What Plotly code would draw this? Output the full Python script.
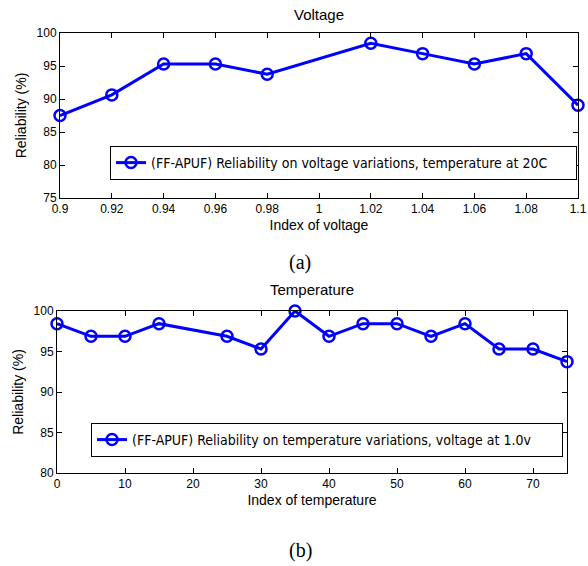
import plotly.graph_objects as go

# Data
volt_x = [0.90, 0.92, 0.94, 0.96, 0.98, 1.02, 1.04, 1.06, 1.08, 1.10]
volt_y = [87.5, 90.625, 95.3125, 95.3125, 93.75, 98.4375, 96.875, 95.3125, 96.875, 89.0625]
volt_ticks = [0.9, 0.92, 0.94, 0.96, 0.98, 1.0, 1.02, 1.04, 1.06, 1.08, 1.1]
volt_ticklabels = ["0.9", "0.92", "0.94", "0.96", "0.98", "1", "1.02", "1.04", "1.06", "1.08", "1.1"]

temp_x = [0, 5, 10, 15, 25, 30, 35, 40, 45, 50, 55, 60, 65, 70, 75]
temp_y = [98.4375, 96.875, 96.875, 98.4375, 96.875, 95.3125, 100, 96.875, 98.4375, 98.4375,
          96.875, 98.4375, 95.3125, 95.3125, 93.75]
temp_ticks = [0, 10, 20, 30, 40, 50, 60, 70]

W, H = 588, 566
BLUE = "#0000FF"
TICKFONT = dict(family="Liberation Sans, Arial, sans-serif", size=12, color="black")
LEGFONT = dict(family="Liberation Sans Narrow, DejaVu Sans Condensed, Arial Narrow, sans-serif", size=14, color="black")
TITLEFONT = dict(family="Liberation Sans, Arial", size=14, color="black")

fig = go.Figure()
fig.add_trace(go.Scatter(
    x=volt_x, y=volt_y, mode="lines+markers", xaxis="x", yaxis="y",
    name="(FF-APUF) Reliability on voltage variations, temperature at 20C",
    line=dict(color=BLUE, width=3),
    marker=dict(symbol="circle-open", size=11, color=BLUE, line=dict(width=2.5, color=BLUE)),
    cliponaxis=False, legend="legend",
))
fig.add_trace(go.Scatter(
    x=temp_x, y=temp_y, mode="lines+markers", xaxis="x2", yaxis="y2",
    name="(FF-APUF) Reliability on temperature variations, voltage at 1.0v",
    line=dict(color=BLUE, width=3),
    marker=dict(symbol="circle-open", size=11, color=BLUE, line=dict(width=2.5, color=BLUE)),
    cliponaxis=False, legend="legend2",
))

def px_x(p):
    return p / W

def px_y(p):
    return 1 - p / H

axis_common = dict(showline=True, linecolor="black", linewidth=1, mirror="allticks",
                   ticks="inside", ticklen=5, tickcolor="black", showgrid=False,
                   zeroline=False, tickfont=TICKFONT, automargin=False)

fig.update_layout(
    width=W, height=H, margin=dict(l=0, r=0, t=0, b=0, autoexpand=False),
    paper_bgcolor="white", plot_bgcolor="white",
    showlegend=True,
    xaxis=dict(domain=[px_x(60), px_x(578)], range=[0.9, 1.1], anchor="y",
               tickvals=volt_ticks, ticktext=volt_ticklabels,
               title=dict(text="Index of voltage", font=TITLEFONT, standoff=4),
               **axis_common),
    yaxis=dict(domain=[px_y(198), px_y(33)], range=[75, 100], anchor="x",
               tickvals=[75, 80, 85, 90, 95, 100],
               title=dict(text="Reliability (%)", font=TITLEFONT, standoff=6),
               **axis_common),
    xaxis2=dict(domain=[px_x(57), px_x(567)], range=[0, 75], anchor="y2",
                tickvals=temp_ticks,
                title=dict(text="Index of temperature", font=TITLEFONT, standoff=4),
                **axis_common),
    yaxis2=dict(domain=[px_y(473), px_y(311)], range=[80, 100], anchor="x2",
                tickvals=[80, 85, 90, 95, 100],
                title=dict(text="Reliability (%)", font=TITLEFONT, standoff=6),
                **axis_common),
    legend=dict(x=px_x(110), y=px_y(146), xanchor="left", yanchor="top", orientation="h",
                bordercolor="black", borderwidth=1, bgcolor="white", font=LEGFONT,
                itemwidth=30, entrywidth=420, entrywidthmode="pixels"),
    legend2=dict(x=px_x(91), y=px_y(423), xanchor="left", yanchor="top", orientation="h",
                 bordercolor="black", borderwidth=1, bgcolor="white", font=LEGFONT,
                 itemwidth=30, entrywidth=425, entrywidthmode="pixels"),
    annotations=[
        dict(text="Voltage", x=0.5 * (px_x(60) + px_x(578)), y=px_y(15), xref="paper", yref="paper",
             yanchor="middle", showarrow=False, font=dict(family="Liberation Sans, Arial", size=15, color="black")),
        dict(text="Temperature", x=0.5 * (px_x(57) + px_x(567)), y=px_y(289), xref="paper", yref="paper",
             yanchor="middle", showarrow=False, font=dict(family="Liberation Sans, Arial", size=15, color="black")),
        dict(text="(a)", x=px_x(300), y=px_y(262), xref="paper", yref="paper",
             yanchor="middle", showarrow=False, font=dict(family="Liberation Serif, Times New Roman, serif", size=20, color="black")),
        dict(text="(b)", x=px_x(300), y=px_y(550), xref="paper", yref="paper",
             yanchor="middle", showarrow=False, font=dict(family="Liberation Serif, Times New Roman, serif", size=20, color="black")),
    ],
)

fig.write_html("out.html", config={"displayModeBar": False},
               post_script="document.body.style.margin='0';")
